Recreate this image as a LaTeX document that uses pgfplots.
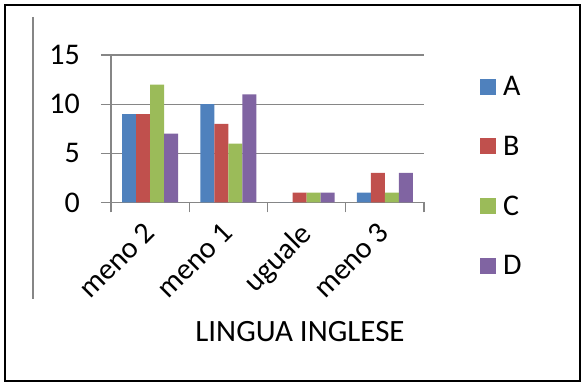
\documentclass[border=0pt]{standalone}
\usepackage{pgfplots}
\pgfplotsset{compat=1.18}
\usepackage{fontspec}
\setmainfont{Carlito}
\definecolor{sA}{HTML}{4F81BD}
\definecolor{sB}{HTML}{C0504D}
\definecolor{sC}{HTML}{9BBB59}
\definecolor{sD}{HTML}{8064A2}
\definecolor{gridc}{HTML}{868686}
\pgfplotsset{sqlegend/.style={legend image code/.code={\fill[##1,draw=none] (0pt,-8pt) rectangle (16pt,8pt);}}}
\begin{document}
\begin{tikzpicture}[x=1pt,y=1pt]
\useasboundingbox (-111,-185.5) rectangle (473,202.5);
\begin{scope}
\clip (-100,-96.5) rectangle (469,185.5);
\begin{axis}[
  at={(0pt,0pt)}, anchor=south west,
  scale only axis, width=313pt, height=147.5pt,
  ymin=0, ymax=15, ytick={0,5,10,15},
  xmin=-0.5, xmax=3.5,
  xtick={-0.5,0.5,1.5,2.5,3.5},
  x tick label as interval,
  xticklabels={meno 2, meno 1, uguale, meno 3},
  ybar=0pt, bar width=14pt,
  axis x line*=bottom, axis y line*=left,
  axis line style={gridc, line width=1.3pt, -},
  ymajorgrids, major grid style={gridc, line width=1.3pt},
  tick align=outside, major tick length=10pt,
  tick style={gridc, line width=1.3pt},
  /pgf/number format/assume math mode=true,
  tick label style={font=\fontsize{30}{35}\selectfont, text=black},
  yticklabel style={anchor=east, inner sep=0pt, xshift=-21pt},
  xticklabel style={xshift=-8pt, yshift=-8pt, rotate=45, anchor=north east, inner sep=0pt},
  legend style={at={(rel axis cs:1.179,0.858)}, anchor=north west, draw=none, fill=none,
    inner sep=0pt, row sep=39pt, column sep=7pt,
    nodes={inner sep=0pt, font=\fontsize{30}{36}\selectfont}},
  legend cell align=left,
]
\addplot[fill=sA, draw=none, sqlegend] coordinates {(0,9) (1,10) (2,0) (3,1)};
\addplot[fill=sB, draw=none, sqlegend] coordinates {(0,9) (1,8) (2,1) (3,3)};
\addplot[fill=sC, draw=none, sqlegend] coordinates {(0,12) (1,6) (2,1) (3,1)};
\addplot[fill=sD, draw=none, sqlegend] coordinates {(0,7) (1,11) (2,1) (3,3)};
\legend{A,B,C,D}
\end{axis}
\end{scope}
\draw[gridc, line width=1.5pt] (-78,185.5) -- (-78,-96.5);
\node[font=\fontsize{31}{37}\selectfont] at (189,-129.5) {LINGUA INGLESE};
\draw[black, line width=2.2pt] (-106,197.5) rectangle (469,-178.5);
\end{tikzpicture}
\end{document}
